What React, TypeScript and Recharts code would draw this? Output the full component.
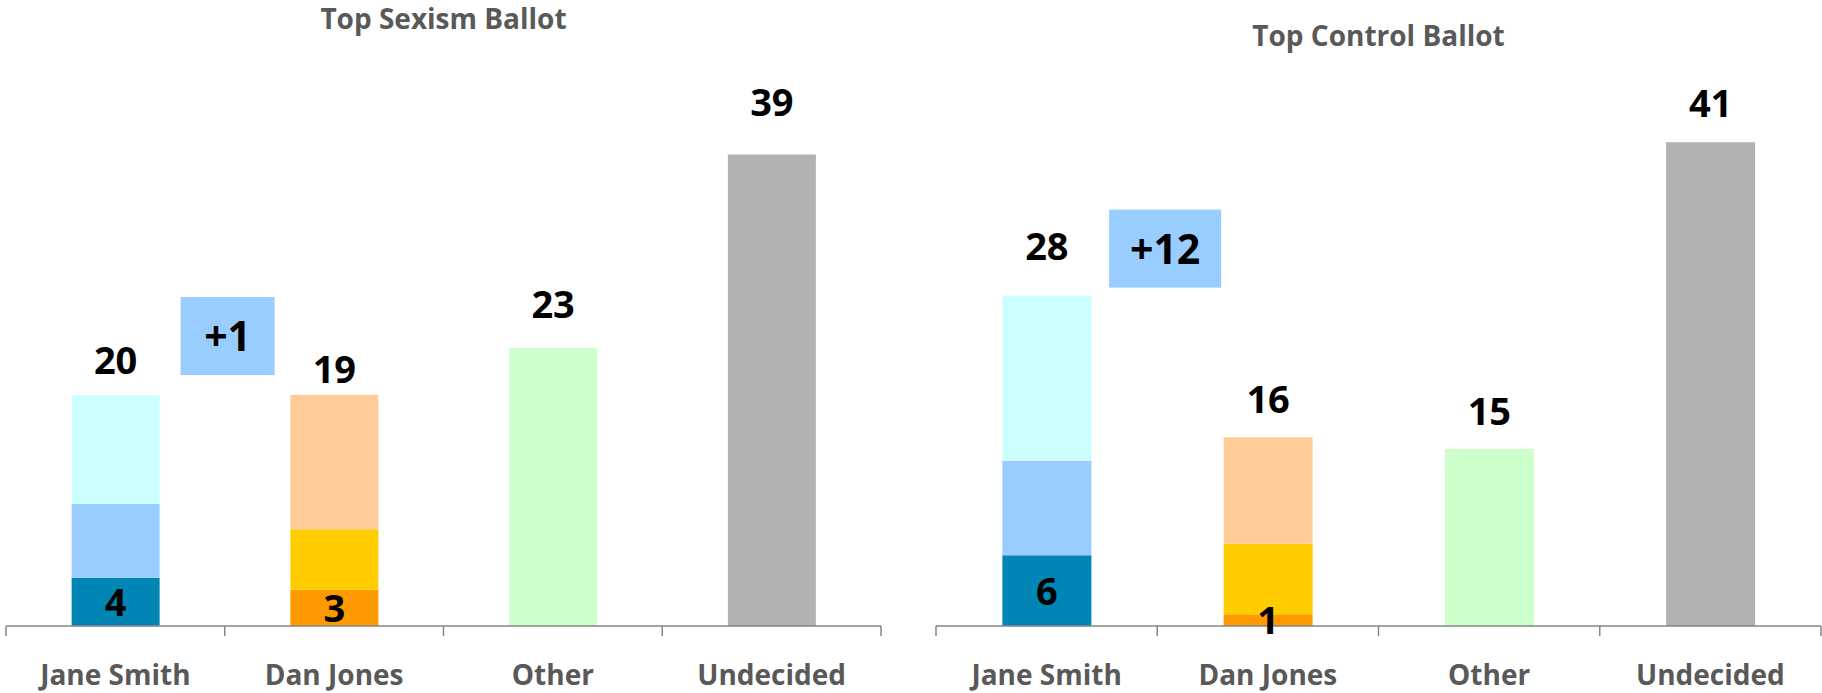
import React from 'react';
import { BarChart, Bar, XAxis, YAxis, Cell, LabelList } from 'recharts';

// shared categories
const categories = ['Jane Smith', 'Dan Jones', 'Other', 'Undecided'];

// Top Sexism Ballot
const sexismBase = [4, 3, 23, 39];
const sexismMid = [6.1, 5, 0, 0];
const sexismTop = [9, 11.1, 0, 0];
const sexismTotals = ['20', '19', '23', '39'];
const sexismBaseLabels = ['4', '3', '', ''];
const sexismLead = '+1';

// Top Control Ballot
const controlBase = [6, 1, 15, 41];
const controlMid = [8, 6, 0, 0];
const controlTop = [14, 9, 0, 0];
const controlTotals = ['28', '16', '15', '41'];
const controlBaseLabels = ['6', '1', '', ''];
const controlLead = '+12';

const baseColors = ['#0085B4', '#FF9900', '#CCFFCC', '#B2B2B2'];
const midColors = ['#99CCFF', '#FFCC00', '#CCFFCC', '#B2B2B2'];
const topColors = ['#CCFFFF', '#FFCC99', '#CCFFCC', '#B2B2B2'];

const FONT = "'Open Sans', Lato, sans-serif";
const AXIS_GREY = '#868686';
const TEXT_GREY = '#595959';

interface PanelProps {
  title: string;
  base: number[];
  mid: number[];
  top: number[];
  totals: string[];
  baseLabels: string[];
  lead: string;
  left: number;
  width: number;
  marginLeft: number;
  marginRight: number;
  marginTop: number;
  titleTop: number;
  totalLift: number[];
  boxGap: number;
  boxShift: number;
}

const Panel: React.FC<PanelProps> = (p) => {
  const rows = categories.map((name, i) => ({
    name,
    base: p.base[i],
    mid: p.mid[i],
    top: p.top[i],
  }));
  const single = (i: number) => p.mid[i] + p.top[i] === 0;

  const totalText = (cx: number, topY: number, index: number) => (
    <text
      key="t"
      x={cx}
      y={topY - p.totalLift[index]}
      textAnchor="middle"
      fontFamily={FONT}
      fontWeight="bold"
      fontSize={38}
      fill="#000"
    >
      {p.totals[index]}
    </text>
  );

  const renderTotal = (props: any) => {
    const { x, y, width, index } = props;
    if (single(index)) return null;
    const cx = Number(x) + Number(width) / 2;
    const topY = Number(y);
    const els: React.ReactNode[] = [totalText(cx, topY, index)];
    if (index === 0) {
      const bw = 18 * p.lead.length + 58;
      const bx = cx + Number(width) / 0.4 / 2 - bw / 2 + p.boxShift;
      const bh = 78;
      const by = topY - p.boxGap - bh;
      els.push(
        <g key="box">
          <rect x={bx} y={by} width={bw} height={bh} fill="#99CCFF" />
          <text
            x={bx + bw / 2}
            y={by + bh / 2 + 15}
            textAnchor="middle"
            fontFamily={FONT}
            fontWeight="bold"
            fontSize={41}
            fill="#000"
          >
            {p.lead}
          </text>
        </g>
      );
    }
    return <g>{els}</g>;
  };

  const renderBase = (props: any) => {
    const { x, y, width, height, index } = props;
    const cx = Number(x) + Number(width) / 2;
    if (single(index)) return totalText(cx, Number(y), index);
    const txt = p.baseLabels[index];
    if (!txt) return null;
    return (
      <text
        x={cx}
        y={Number(y) + Number(height) / 2 + 14}
        textAnchor="middle"
        fontFamily={FONT}
        fontWeight="bold"
        fontSize={38}
        fill="#000"
      >
        {txt}
      </text>
    );
  };

  const renderCat = (props: any) => {
    const { x, y, payload, index, width } = props;
    const half =
      payload && payload.offset ? Number(payload.offset) : Number(width) / categories.length / 2;
    const lx = Number(x) - half;
    const rx = Number(x) + half;
    const yy = Number(y);
    return (
      <g>
        <line x1={lx} x2={lx} y1={yy} y2={yy + 10} stroke={AXIS_GREY} strokeWidth={1.5} />
        {index === categories.length - 1 && (
          <line x1={rx} x2={rx} y1={yy} y2={yy + 10} stroke={AXIS_GREY} strokeWidth={1.5} />
        )}
        <text
          x={x}
          y={yy + 59}
          textAnchor="middle"
          fontFamily={FONT}
          fontWeight="bold"
          fontSize={28}
          fill={TEXT_GREY}
        >
          {payload.value}
        </text>
      </g>
    );
  };

  return (
    <div style={{ position: 'absolute', left: p.left, top: 0, width: p.width, height: 693 }}>
      <div
        style={{
          position: 'absolute',
          left: p.marginLeft,
          width: p.width - p.marginLeft - p.marginRight,
          top: p.titleTop,
          textAlign: 'center',
          fontFamily: FONT,
          fontWeight: 'bold',
          fontSize: 28,
          lineHeight: 1,
          color: TEXT_GREY,
        }}
      >
        {p.title}
      </div>
      <BarChart
        width={p.width}
        height={693}
        data={rows}
        barCategoryGap="30%"
        margin={{ top: p.marginTop, right: p.marginRight, bottom: 0, left: p.marginLeft }}
      >
        <XAxis
          dataKey="name"
          height={67}
          axisLine={{ stroke: AXIS_GREY, strokeWidth: 1.5 }}
          tickLine={false}
          tickSize={0}
          tickMargin={0}
          interval={0}
          tick={renderCat}
        />
        <YAxis hide domain={[0, 45]} />
        <Bar dataKey="base" stackId="a" isAnimationActive={false}>
          {rows.map((_, i) => (
            <Cell key={i} fill={baseColors[i]} />
          ))}
          <LabelList dataKey="base" content={renderBase} />
        </Bar>
        <Bar dataKey="mid" stackId="a" isAnimationActive={false}>
          {rows.map((_, i) => (
            <Cell key={i} fill={midColors[i]} />
          ))}
        </Bar>
        <Bar dataKey="top" stackId="a" isAnimationActive={false}>
          {rows.map((_, i) => (
            <Cell key={i} fill={topColors[i]} />
          ))}
          <LabelList dataKey="top" content={renderTotal} />
        </Bar>
      </BarChart>
    </div>
  );
}

export default function App() {
  return (
    <div style={{ position: 'absolute', left: 0, top: 0, width: 1822, height: 693, background: '#fff' }}>
      <Panel
        title="Top Sexism Ballot"
        base={sexismBase}
        mid={sexismMid}
        top={sexismTop}
        totals={sexismTotals}
        baseLabels={sexismBaseLabels}
        lead={sexismLead}
        left={0}
        width={890}
        marginLeft={6}
        marginRight={9}
        marginTop={82}
        titleTop={4}
        totalLift={[21, 12, 30, 39]}
        boxGap={20}
        boxShift={2}
      />
      <Panel
        title="Top Control Ballot"
        base={controlBase}
        mid={controlMid}
        top={controlTop}
        totals={controlTotals}
        baseLabels={controlBaseLabels}
        lead={controlLead}
        left={930}
        width={892}
        marginLeft={6}
        marginRight={1}
        marginTop={95}
        titleTop={21}
        totalLift={[36, 24, 24, 25]}
        boxGap={8}
        boxShift={7}
      />
    </div>
  );
}
